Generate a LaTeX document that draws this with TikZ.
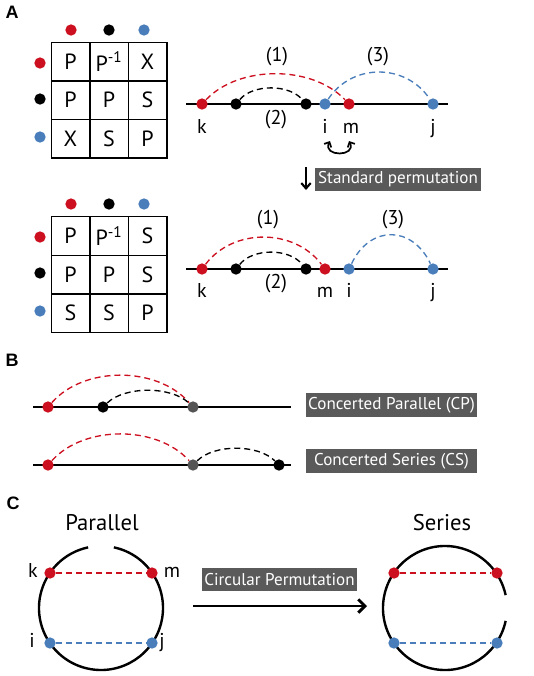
\documentclass[tikz,border=0pt]{standalone}
\usepackage{fontspec}
\setmainfont{PT Sans}
\newfontfamily\labfont{Liberation Sans}
\usetikzlibrary{arrows.meta}
\definecolor{dred}{RGB}{204,16,32}
\definecolor{dblue}{RGB}{74,126,187}
\definecolor{dgray}{RGB}{85,85,85}
\definecolor{boxgray}{RGB}{90,90,90}
\begin{document}
\begin{tikzpicture}[x=0.75pt,y=-0.75pt,
 dotn/.style={circle,inner sep=0pt,minimum size=8.5pt},
 rdot/.style={dotn,fill=dred}, kdot/.style={dotn,fill=black},
 udot/.style={dotn,fill=dblue}, gdot/.style={dotn,fill=dgray},
 cell/.style={draw,line width=1pt,minimum size=29pt,inner sep=0pt,font=\fontsize{16.5}{18}\selectfont},
 lbl/.style={font=\fontsize{15}{18}\selectfont,inner sep=0pt},
 baselbl/.style={lbl,anchor=base},
 axisline/.style={line width=2pt},
 arcd/.style={line width=1pt,dash pattern=on 4.5pt off 3pt},
 redarc/.style={arcd,draw=dred}, blackarc/.style={arcd,draw=black}, bluearc/.style={arcd,draw=dblue},
 tagbox/.style={fill=boxgray,text=white,inner xsep=1.5pt,inner ysep=0pt,minimum height=17.5pt,font=\fontsize{12.8}{15}\selectfont},
 panel/.style={font=\labfont\bfseries\fontsize{13.5}{16}\selectfont,inner sep=0pt},
 ringline/.style={line width=1.8pt},
 barb/.style={-{Straight Barb[length=4pt,width=7pt]}},
]
\useasboundingbox (0,0) rectangle (533,676);

% panel labels
\node[panel] (pA) at (12,12) {A};
\node[panel] (pB) at (12,360) {B};
\node[panel] (pC) at (13,503) {C};

% ---------- top matrix ----------
\node[kdot] (ac2) at (109,30) {};
\node[rdot] (ac1) at (71,30) {};
\node[udot] (ac3) at (144,30) {};
\node[rdot] (ar1) at (40,63) {};
\node[kdot] (ar2) at (40,99) {};
\node[udot] (ar3) at (40,137) {};
\node[cell] (a11) at (70.5,61.5) {P};
\node[cell] (a12) at (109,61.5) {P\textsuperscript{-1}};
\node[cell] (a13) at (147.5,61.5) {X};
\node[cell] (a21) at (70.5,100) {P};
\node[cell] (a22) at (109,100) {P};
\node[cell] (a23) at (147.5,100) {S};
\node[cell] (a31) at (70.5,138.5) {X};
\node[cell] (a32) at (109,138.5) {S};
\node[cell] (a33) at (147.5,138.5) {P};

% ---------- bottom matrix ----------
\node[rdot] (bc1) at (71,204) {};
\node[kdot] (bc2) at (109,204) {};
\node[udot] (bc3) at (144,204) {};
\node[rdot] (br1) at (40,237) {};
\node[kdot] (br2) at (40,273) {};
\node[udot] (br3) at (40,311) {};
\node[cell] (b11) at (70.5,236) {P};
\node[cell] (b12) at (109,236) {P\textsuperscript{-1}};
\node[cell] (b13) at (147.5,236) {S};
\node[cell] (b21) at (70.5,274.5) {P};
\node[cell] (b22) at (109,274.5) {P};
\node[cell] (b23) at (147.5,274.5) {S};
\node[cell] (b31) at (70.5,313) {S};
\node[cell] (b32) at (109,313) {S};
\node[cell] (b33) at (147.5,313) {P};

% ---------- A top line ----------
\coordinate (t0) at (186,104);
\coordinate (t1) at (448,104);
\draw[axisline] (t0) -- (t1);
\node[rdot] (tk) at (202,104) {};
\node[kdot] (tb1) at (236,104) {};
\node[kdot] (tb2) at (306,104) {};
\node[udot] (ti) at (325,104) {};
\node[rdot] (tm) at (349,104) {};
\node[udot] (tj) at (433,104) {};
\draw[redarc] (tk) .. controls +(37,-39) and +(-37,-39) .. (tm);
\draw[blackarc] (tb1) .. controls +(17,-20) and +(-17,-20) .. (tb2);
\draw[bluearc] (ti) .. controls +(27,-41) and +(-27,-41) .. (tj);
\node[lbl] (l1t) at (277,57) {(1)};
\node[lbl] (l3t) at (378,57) {(3)};
\node[lbl] (l2t) at (276,120) {(2)};
\node[baselbl] (lkt) at (202,133) {k};
\node[baselbl] (lit) at (325,133) {i};
\node[baselbl] (lmt) at (351,133) {m};
\node[baselbl] (ljt) at (433,133) {j};
\coordinate (sw1) at (330,141);
\coordinate (sw2) at (349,141);
\draw[line width=1.3pt,{Straight Barb[length=3pt,width=6pt]}-{Straight Barb[length=3pt,width=6pt]}] (sw1) .. controls +(-8,16) and +(8,16) .. (sw2);

% standard permutation
\coordinate (da0) at (306,167);
\coordinate (da1) at (306,190);
\draw[line width=1.6pt,barb] (da0) -- (da1);
\node[tagbox,minimum width=124.5pt] (sp) at (398,179.5) {Standard permutation};

% ---------- A bottom line ----------
\coordinate (u0) at (186,269);
\coordinate (u1) at (448,269);
\draw[axisline] (u0) -- (u1);
\node[rdot] (uk) at (202,269) {};
\node[kdot] (ub1) at (236,269) {};
\node[kdot] (ub2) at (306,269) {};
\node[rdot] (um) at (325,269) {};
\node[udot] (ui) at (349,269) {};
\node[udot] (uj) at (433,269) {};
\draw[redarc] (uk) .. controls +(31,-41) and +(-31,-41) .. (um);
\draw[blackarc] (ub1) .. controls +(17,-21) and +(-17,-21) .. (ub2);
\draw[bluearc] (ui) .. controls +(21,-44) and +(-21,-44) .. (uj);
\node[lbl] (l1u) at (268,220) {(1)};
\node[lbl] (l3u) at (393,220) {(3)};
\node[lbl] (l2u) at (276,284) {(2)};
\node[baselbl] (lku) at (202,297) {k};
\node[baselbl] (lmu) at (325,297) {m};
\node[baselbl] (liu) at (349,297) {i};
\node[baselbl] (lju) at (433,297) {j};

% ---------- B ----------
\coordinate (p0) at (33,407);
\coordinate (p1) at (291,407);
\draw[axisline] (p0) -- (p1);
\node[rdot] (pr) at (48,407) {};
\node[kdot] (pk) at (103,407) {};
\node[gdot] (pg) at (193,407) {};
\draw[redarc] (pr) .. controls +(36,-41) and +(-36,-41) .. (pg);
\draw[blackarc] (pk) .. controls +(22,-21) and +(-22,-21) .. (pg);
\node[tagbox,minimum width=128pt] (cp) at (391.5,405) {Concerted Parallel (CP)};

\coordinate (s0) at (33,465);
\coordinate (s1) at (291,465);
\draw[axisline] (s0) -- (s1);
\node[rdot] (sr) at (48,465) {};
\node[gdot] (sg) at (193,465) {};
\node[kdot] (sk) at (279,465) {};
\draw[redarc] (sr) .. controls +(36,-40) and +(-36,-40) .. (sg);
\draw[blackarc] (sg) .. controls +(21,-21) and +(-21,-21) .. (sk);
\node[tagbox,minimum width=128pt] (cs) at (391.5,461) {Concerted Series (CS)};

% ---------- C ----------
\node[font=\fontsize{17}{20}\selectfont,inner sep=0pt] (par) at (102,523) {Parallel};
\node[font=\fontsize{17}{20}\selectfont,inner sep=0pt] (ser) at (442,523) {Series};
\coordinate (lc) at (101,608);
\coordinate (rc) at (445,608);
\draw[ringline] (lc) ++(-78:62) arc[start angle=-78,end angle=258,radius=62];
\draw[ringline] (rc) ++(12:62) arc[start angle=12,end angle=348,radius=62];
\node[rdot] (ck) at (50,573) {};
\node[rdot] (cm) at (152,573) {};
\node[udot] (ci) at (50,643) {};
\node[udot] (cj) at (152,643) {};
\draw[redarc] (ck) -- (cm);
\draw[bluearc] (ci) -- (cj);
\node[baselbl] (lkc) at (33,577) {k};
\node[baselbl] (lmc) at (172,577) {m};
\node[baselbl] (lic) at (32,647) {i};
\node[baselbl] (ljc) at (162,647) {j};
\node[rdot] (rk) at (394,573) {};
\node[rdot] (rm) at (497,573) {};
\node[udot] (ri) at (394,643) {};
\node[udot] (rj) at (497,643) {};
\draw[redarc] (rk) -- (rm);
\draw[bluearc] (ri) -- (rj);
\coordinate (ca0) at (193,606);
\coordinate (ca1) at (367,606);
\draw[line width=2.2pt,-{Straight Barb[length=5pt,width=10pt]}] (ca0) -- (ca1);
\node[tagbox,minimum width=116pt] (circ) at (279.5,579.5) {Circular Permutation};
\end{tikzpicture}
\end{document}
